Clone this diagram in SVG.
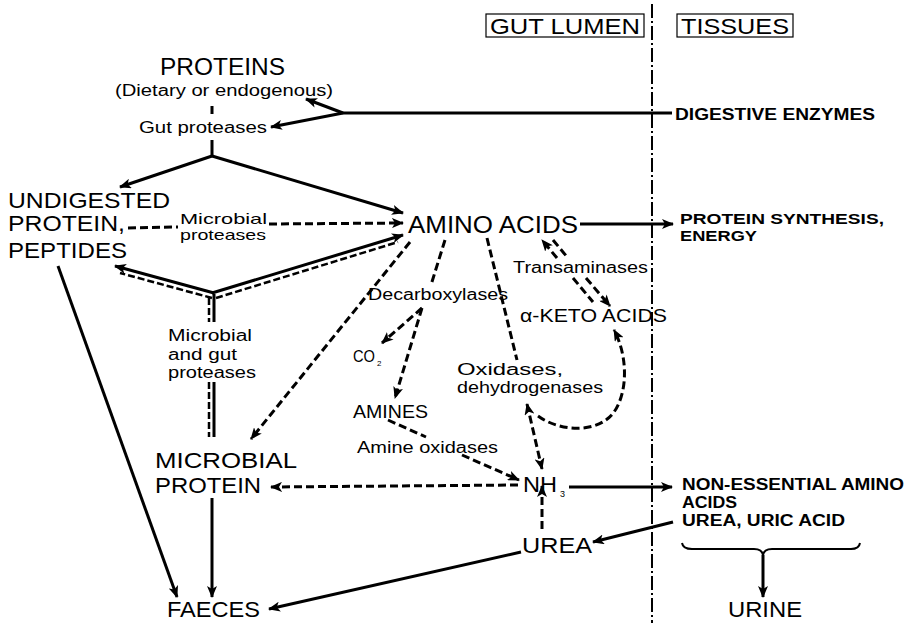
<svg xmlns="http://www.w3.org/2000/svg" width="915" height="623" viewBox="0 0 915 623">
<style>
text{font-family:"Liberation Sans",Arial,sans-serif;fill:#000}
.L{font-size:22px}
.M{font-size:16px}
.B{font-size:16px;font-weight:bold}
.s{stroke:#000;stroke-width:3;fill:none}
.d{stroke:#000;stroke-width:3;fill:none;stroke-dasharray:8 4}
.dd{stroke:#000;stroke-width:2.5;fill:none;stroke-dasharray:7 3}
.axis{stroke:#000;stroke-width:2;fill:none;stroke-dasharray:14 3 2 3}
.box{stroke:#000;stroke-width:1.2;fill:none}
</style>
<defs>
<marker id="a" viewBox="0 0 12 10" refX="11" refY="5" markerWidth="12" markerHeight="10" markerUnits="userSpaceOnUse" orient="auto-start-reverse">
<path d="M0,0 L12,5 L0,10 L3,5z" fill="#000"/>
</marker>
</defs>
<rect width="915" height="623" fill="#fff"/>

<g id="divider">
<line class="axis" x1="652" y1="4" x2="652" y2="623"/>
</g>
<g id="gut-lumen">
<rect class="box" x="486" y="14" width="158" height="23"/>
<text class="L" x="490" y="34" textLength="150" lengthAdjust="spacingAndGlyphs">GUT LUMEN</text>
</g>
<g id="tissues">
<rect class="box" x="677" y="14" width="116" height="23"/>
<text class="L" x="681" y="34" textLength="108" lengthAdjust="spacingAndGlyphs">TISSUES</text>
</g>

<g id="proteins">
<text x="160" y="75" style="font-size:23px" textLength="125" lengthAdjust="spacingAndGlyphs">PROTEINS</text>
<text class="M" x="115" y="96" textLength="218" lengthAdjust="spacingAndGlyphs">(Dietary or endogenous)</text>
</g>
<g id="gut-proteases">
<text class="M" x="139" y="133" textLength="128" lengthAdjust="spacingAndGlyphs">Gut proteases</text>
</g>
<g id="digestive-enzymes">
<text class="B" x="675" y="120" style="font-size:17px" textLength="200" lengthAdjust="spacingAndGlyphs">DIGESTIVE ENZYMES</text>
</g>
<g id="undigested">
<text class="L" x="8" y="208" textLength="162" lengthAdjust="spacingAndGlyphs">UNDIGESTED</text>
<text class="L" x="8" y="231" textLength="117" lengthAdjust="spacingAndGlyphs">PROTEIN,</text>
<text class="L" x="8" y="258" textLength="119" lengthAdjust="spacingAndGlyphs">PEPTIDES</text>
</g>
<g id="microbial-proteases">
<text x="180" y="224" style="font-size:15px" textLength="87" lengthAdjust="spacingAndGlyphs">Microbial</text>
<text x="180" y="240" style="font-size:15px" textLength="86" lengthAdjust="spacingAndGlyphs">proteases</text>
</g>
<g id="amino-acids">
<text x="408" y="233" style="font-size:23px" textLength="170" lengthAdjust="spacingAndGlyphs">AMINO ACIDS</text>
</g>
<g id="protein-synthesis">
<text class="B" x="680" y="224" style="font-size:15px" textLength="204" lengthAdjust="spacingAndGlyphs">PROTEIN SYNTHESIS,</text>
<text class="B" x="680" y="241" style="font-size:15px" textLength="77" lengthAdjust="spacingAndGlyphs">ENERGY</text>
</g>
<g id="transaminases">
<text class="M" x="513" y="273" textLength="135" lengthAdjust="spacingAndGlyphs">Transaminases</text>
</g>
<g id="decarboxylases">
<text class="M" x="368" y="300" textLength="140" lengthAdjust="spacingAndGlyphs">Decarboxylases</text>
</g>
<g id="keto-acids">
<text x="520" y="322" style="font-size:19px" textLength="147" lengthAdjust="spacingAndGlyphs">α-KETO ACIDS</text>
</g>
<g id="co2">
<text x="353" y="362" style="font-size:17px" textLength="22" lengthAdjust="spacingAndGlyphs">CO</text>
<text x="377" y="366" style="font-size:8px">2</text>
</g>
<g id="mg-proteases">
<text class="M" x="168" y="341" textLength="84" lengthAdjust="spacingAndGlyphs">Microbial</text>
<text class="M" x="168" y="360" textLength="69" lengthAdjust="spacingAndGlyphs">and gut</text>
<text class="M" x="168" y="378" textLength="88" lengthAdjust="spacingAndGlyphs">proteases</text>
</g>
<g id="oxidases">
<text class="M" x="457" y="375" textLength="106" lengthAdjust="spacingAndGlyphs">Oxidases,</text>
<text class="M" x="457" y="393" textLength="146" lengthAdjust="spacingAndGlyphs">dehydrogenases</text>
</g>
<g id="amines">
<text x="353" y="418" style="font-size:19px" textLength="75" lengthAdjust="spacingAndGlyphs">AMINES</text>
</g>
<g id="amine-oxidases">
<text class="M" x="357" y="453" textLength="141" lengthAdjust="spacingAndGlyphs">Amine oxidases</text>
</g>
<g id="microbial-protein">
<text class="L" x="155" y="468" textLength="142" lengthAdjust="spacingAndGlyphs">MICROBIAL</text>
<text class="L" x="155" y="493" textLength="106" lengthAdjust="spacingAndGlyphs">PROTEIN</text>
</g>
<g id="nh3">
<text class="L" x="523" y="492" textLength="34" lengthAdjust="spacingAndGlyphs">NH</text>
<text x="560" y="497" style="font-size:9px">3</text>
</g>
<g id="non-essential">
<text class="B" x="682" y="490" textLength="222" lengthAdjust="spacingAndGlyphs">NON-ESSENTIAL AMINO</text>
<text class="B" x="682" y="508" textLength="55" lengthAdjust="spacingAndGlyphs">ACIDS</text>
<text class="B" x="682" y="526" textLength="163" lengthAdjust="spacingAndGlyphs">UREA, URIC ACID</text>
</g>
<g id="urea">
<text class="L" x="522" y="553" textLength="70" lengthAdjust="spacingAndGlyphs">UREA</text>
</g>
<g id="faeces">
<text class="L" x="167" y="617" textLength="93" lengthAdjust="spacingAndGlyphs">FAECES</text>
</g>
<g id="urine">
<text class="L" x="728" y="617" textLength="74" lengthAdjust="spacingAndGlyphs">URINE</text>
</g>

<g id="connectors">
<path class="s" d="M672,113 L343,113"/>
<path class="s" d="M343,113 L306,99" marker-end="url(#a)"/>
<path class="s" d="M343,113 L271,127" marker-end="url(#a)"/>
<path class="s" d="M212,106 L212,114 M212,140 L212,156"/>
<path class="s" d="M212,156 L120,187" marker-end="url(#a)"/>
<path class="s" d="M212,156 L403,213" marker-end="url(#a)"/>
<path class="d" d="M128,228 L178,227"/>
<path class="d" d="M269,224 L403,223" marker-end="url(#a)"/>
<path class="s" d="M580,224 L673,224" marker-end="url(#a)"/>
<path class="s" d="M214,293 L115,266" marker-end="url(#a)"/>
<path class="dd" d="M212,298 L120,273"/>
<path class="s" d="M212,293 L403,235" marker-end="url(#a)"/>
<path class="dd" d="M216,298 L398,242"/>
<path class="s" d="M214,294 L214,322 M214,382 L214,437"/>
<path class="dd" d="M209,298 L209,322 M209,382 L209,437"/>
<path class="d" d="M410,242 L251,439" marker-end="url(#a)"/>
<path class="d" d="M445,240 L431,285"/>
<path class="d" d="M422,308 L382,343" marker-end="url(#a)"/>
<path class="d" d="M422,308 L395,398" marker-end="url(#a)"/>
<path class="d" d="M388,420 L426,437"/>
<path class="d" d="M462,455 L519,480" marker-end="url(#a)"/>
<path class="d" d="M487,238 L517,360"/>
<path class="d" d="M527,404 L542,469" marker-start="url(#a)" marker-end="url(#a)"/>
<path class="d" d="M538,416 C560,432 598,434 614,412 C628,392 628,356 614,330" marker-end="url(#a)"/>
<path class="d" d="M557,258 L542,240" marker-end="url(#a)"/>
<path class="d" d="M573,278 L593,302"/>
<path class="d" d="M553,240 L568,258"/>
<path class="d" d="M586,278 L610,306" marker-end="url(#a)"/>
<path class="d" d="M518,485 L271,487" marker-end="url(#a)"/>
<path class="s" d="M569,487 L672,487" marker-end="url(#a)"/>
<path class="s" d="M673,522 L593,542" marker-end="url(#a)"/>
<path class="d" d="M542,529 L542,486" marker-end="url(#a)"/>
<path class="s" d="M521,552 L269,609" marker-end="url(#a)"/>
<path class="s" d="M58,266 L177,597" marker-end="url(#a)"/>
<path class="s" d="M212,498 L212,597" marker-end="url(#a)"/>
<path class="s" style="stroke-width:2" d="M682,543 Q683,549 692,549 L754,549 Q762,549 763,555 Q764,549 772,549 L851,549 Q859,549 860,543"/>
<path class="s" d="M763,555 L763,597" marker-end="url(#a)"/>
</g>
</svg>
